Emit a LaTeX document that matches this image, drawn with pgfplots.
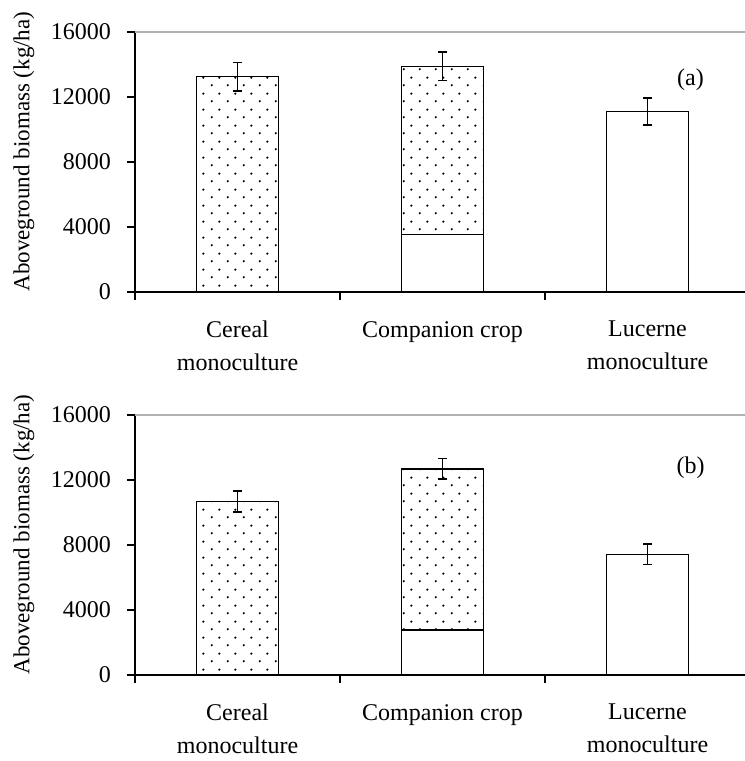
\documentclass[border=0pt]{standalone}
\usepackage{fontspec}
\setmainfont{Liberation Serif}
\usepackage{pgfplots}
\pgfplotsset{compat=1.18}
\usetikzlibrary{patterns.meta}

\pgfdeclarepattern{
  name=sparsedots, type=uncolored,
  bottom left={\pgfpointorigin}, top right={\pgfpoint{16bp}{16bp}},
  tile size={\pgfpoint{16bp}{16bp}},
  code={\pgfpathcircle{\pgfpoint{4bp}{4bp}}{1.3bp}\pgfpathcircle{\pgfpoint{12bp}{12bp}}{1.3bp}\pgfusepath{fill}}
}

\pgfplotsset{
  panel/.style={
    scale only axis, width=610bp, height=260bp,
    xmin=-0.5, xmax=2.4756, ymin=0, ymax=16000,
    axis x line*=bottom, axis y line*=left,
    axis line style={line width=1.5bp, black},
    xtick={-0.5,0.5,1.5}, xticklabels={},
    extra x ticks={0,1,2},
    extra x tick labels={{Cereal\\monoculture},{Companion crop},{Lucerne\\monoculture}},
    extra x tick style={major tick length=0pt, tick style={draw=none},
      tick label style={align=center, font=\fontsize{24bp}{33bp}\selectfont, yshift=-21bp}},
    ytick={0,4000,8000,12000,16000},
    scaled y ticks=false,
    yticklabel style={/pgf/number format/set thousands separator={},
      /pgf/number format/assume math mode=true, font=\fontsize{24bp}{29bp}\selectfont, xshift=-8bp},
    tick align=outside, major tick length=8bp,
    tick style={line width=1.5bp, black},
    every axis y label/.style={at={(axis description cs:0,0.54)}, xshift=-111bp, rotate=90, anchor=center, font=\fontsize{23bp}{28bp}\selectfont},
    ylabel={Aboveground biomass (kg/ha)},
    clip=false,
  },
  dotbar/.style={ybar, bar width=82bp, bar shift=0pt, draw=black, line width=1.5bp, pattern=sparsedots, pattern color=black},
  whitebar/.style={ybar, bar width=82bp, bar shift=0pt, draw=black, line width=1.5bp, fill=white},
  errs/.style={error bars/.cd, y dir=both, y explicit,
    error mark=|,
    error bar style={line width=1.5bp, black},
    error mark options={line width=1.5bp, mark size=4.5bp, black}},
}

\begin{document}
\fontsize{24bp}{29bp}\selectfont
\begin{tikzpicture}
\useasboundingbox (0,0) rectangle (745bp,761bp);
% panel (a)
\begin{axis}[panel, at={(135bp,469bp)}, anchor=south west]
  \draw[gray!60, line width=1.5bp] (rel axis cs:0,1) -- (rel axis cs:1,1);
  \addplot[dotbar, errs] coordinates {(0,13250) +- (0,880) (1,13880) +- (0,880)};
  \addplot[whitebar] coordinates {(1,3530)};
  \addplot[whitebar, errs] coordinates {(2,11120) +- (0,830)};
  \node[font=\fontsize{24bp}{29bp}\selectfont] at (axis cs:2.21,13050) {(a)};
\end{axis}
% panel (b)
\begin{axis}[panel, at={(135bp,86bp)}, anchor=south west]
  \draw[gray!60, line width=1.5bp] (rel axis cs:0,1) -- (rel axis cs:1,1);
  \addplot[dotbar, errs] coordinates {(0,10680) +- (0,645) (1,12690) +- (0,635)};
  \addplot[whitebar] coordinates {(1,2760)};
  \addplot[whitebar, errs] coordinates {(2,7430) +- (0,625)};
  \node[font=\fontsize{24bp}{29bp}\selectfont] at (axis cs:2.21,12770) {(b)};
\end{axis}
\end{tikzpicture}
\end{document}
